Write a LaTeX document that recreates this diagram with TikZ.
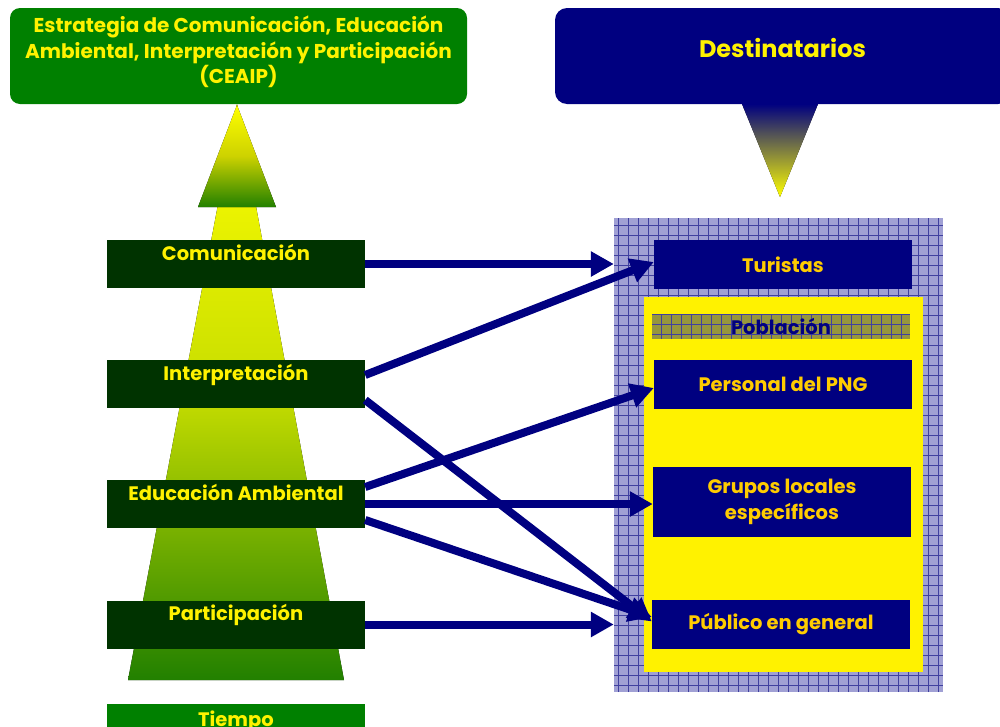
\documentclass[tikz,border=0pt]{standalone}
\usepackage{fontspec}
\setmainfont{Poppins}
\usetikzlibrary{arrows.meta}

\definecolor{navy}{RGB}{0,0,128}
\definecolor{dkgreen}{RGB}{0,51,0}
\definecolor{midgreen}{RGB}{0,128,0}
\definecolor{treegreen}{RGB}{34,128,0}
\definecolor{gold}{RGB}{255,204,0}
\definecolor{hatch}{RGB}{160,160,212}
\definecolor{popgrid}{RGB}{150,150,60}

\newcommand{\lvlfont}{\bfseries\fontsize{19.5}{26}\selectfont}

\tikzset{
  level/.style={fill=dkgreen, text=yellow, font=\lvlfont, minimum width=258,
    inner ysep=0, text height=20, text depth=28},
  target/.style={fill=navy, text=gold, font=\lvlfont, minimum width=258, align=center},
  flow/.style={navy, line width=8pt, -{Triangle[length=23pt,width=24pt]}},
  checked/.style={path picture={\draw[navy!75, line width=0.6pt, step=10pt]
    (path picture bounding box.south west) grid (path picture bounding box.north east);}}
}

\begin{document}
\begin{tikzpicture}[x=1pt,y=-1pt]
  \path[use as bounding box] (0,0) rectangle (1000,726);
  \clip (0,0) rectangle (1000,726);

  % left: the strategy
  \node (ceaip) [fill=midgreen, rounded corners=10pt, minimum width=457, minimum height=96] at (238.5,56) {};
  \node (ceaiptext) [text=yellow, font=\bfseries\fontsize{20}{25.5}\selectfont, align=center] at (238.5,52)
    {Estrategia de Comunicación, Educación\\Ambiental, Interpretación y Participación\\(CEAIP)};

  \fill[top color=yellow, bottom color=treegreen, middle color={rgb,255:red,200;green,222;blue,0}]
    (237,104) -- (344,680) -- (128,680) -- cycle;
  \fill[top color=yellow, bottom color=treegreen, middle color={rgb,255:red,205;green,210;blue,0}]
    (237,105) -- (276,207) -- (198,207) -- cycle;

  \node (com) [level] at (236,264) {Comunicación};
  \node (interp) [level] at (236,384) {Interpretación};
  \node (edu) [level] at (236,504) {Educación Ambiental};
  \node (part) [level] at (236,624.5) {Participación};
  \node (tiempo) [level, fill=midgreen, anchor=north, text height=22] at (236,704) {Tiempo};

  % right: the target groups
  \node (destin) [fill=navy, rounded corners=12pt, minimum width=455, minimum height=96,
    text=yellow, font=\bfseries\fontsize{24}{28}\selectfont, inner ysep=0, text height=49, text depth=47]
    at (782.5,56) {Destinatarios};
  \fill[top color=navy, bottom color=yellow] (742,104) -- (818,104) -- (780,197) -- cycle;

  \node (dest) [fill=hatch, checked, minimum width=329, minimum height=474] at (778.5,455) {};
  \node (pop) [fill=yellow, minimum width=279, minimum height=375] at (783.5,484.5) {};
  \node (poblacion) [fill=popgrid, checked, text=navy, font=\lvlfont, minimum width=258,
    minimum height=25, inner ysep=0] at (781,326.5) {Población};

  \node (turistas) [target, minimum height=49] at (783,264.5) {Turistas};
  \node (personal) [target, minimum height=49] at (783,384.5) {Personal del PNG};
  \node (grupos) [target, minimum height=70] at (782,502) {Grupos locales\\específicos};
  \node (publico) [target, minimum height=49] at (781,624.5) {Público en general};

  \draw[flow] (com.east) -- (com.east -| dest.west);
  \draw[flow] ([yshift=9pt]interp.east) -- ([yshift=2.5pt]turistas.west);
  \draw[flow] ([yshift=-16pt]interp.east) -- ([yshift=3pt]publico.west);
  \draw[flow] ([yshift=17pt]edu.east) -- ([yshift=-3.5pt]personal.west);
  \draw[flow] (edu.east) -- (edu.east -| grupos.west);
  \draw[flow] ([yshift=-16pt]edu.east) -- ([yshift=7.5pt]publico.west);
  \draw[flow] (part.east) -- (part.east -| dest.west);
\end{tikzpicture}
\end{document}
